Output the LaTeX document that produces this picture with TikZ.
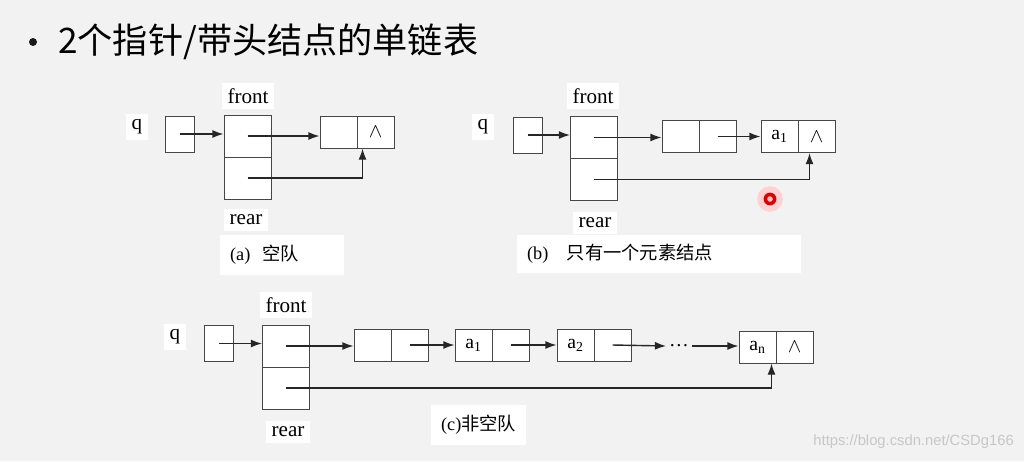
\documentclass[tikz,border=0pt]{standalone}
\usepackage{fontspec}
\setmainfont{Liberation Serif}
\newfontfamily\cjkfont{Noto Sans CJK SC}
\newfontfamily\wmfont{Liberation Sans}
\usetikzlibrary{arrows.meta}
\newcommand{\lnkLine}{black!72}
\newcommand{\lnkPtr}{black!85}
\newcommand{\lnkBg}{black!5}
\newcommand{\lnkMark}{white!78!black}
\tikzset{
  qcell/.style={rectangle, draw=\lnkLine, fill=white, line width=0.7pt,
                minimum width=0.725cm, minimum height=0.9cm, inner sep=0pt},
  hcell/.style={rectangle, draw=\lnkLine, fill=white, line width=0.7pt,
                minimum width=1.175cm, minimum height=1.05cm, inner sep=0pt},
  lcell/.style={rectangle, draw=\lnkLine, fill=white, line width=0.7pt,
                minimum width=0.925cm, minimum height=0.8cm, inner sep=0pt,
                font=\fontsize{14}{16}\selectfont},
  plab/.style={font=\fontsize{15}{18}\selectfont, fill=white, inner sep=4pt},
  capt/.style={font=\fontsize{13}{16}\selectfont, fill=white, anchor=west,
               inner xsep=7pt, inner ysep=7pt},
  ptr/.style={draw=\lnkPtr, line width=1pt, -{Latex[length=2.8mm,width=2mm]}},
}

\begin{document}
\begin{tikzpicture}[x=0.025cm, y=-0.025cm]
  \fill[\lnkBg] (0,0) rectangle (1024,461);
  \useasboundingbox (0,0) rectangle (1024,461);

  % title
  \fill[black!90] (33,42) circle (0.1cm);
  \node[anchor=west, inner sep=0pt, font=\cjkfont\fontsize{25}{30}\selectfont] (ttl) at (58,42) {2个指针/带头结点的单链表};

  % (a) empty queue
  \node[plab] (qA) at (137,127) {q};
  \node[qcell] (pA) at (180,134) {};
  \node[hcell] (hA1) at (247.5,136) {};
  \node[hcell] (hA2) at (247.5,178) {};
  \node[plab] (fA) at (248,96) {front};
  \node[plab] (rA) at (246,220) {rear};
  \node[lcell] (eA1) at (338.5,132) {};
  \node[lcell] (eA2) at (375.5,132) {$\wedge$};
  \draw[ptr] (pA.center) -- (pA.center -| hA1.west);
  \draw[ptr] (hA1.center) -- (hA1.center -| eA1.west);
  \draw[ptr] (hA2.center) -| ([xshift=0.15cm]eA2.south west);
  \node[capt, text width=2.6cm] (cpA) at (220,255) {(a)\ \ {\cjkfont 空队}};

  % (b) one element
  \node[plab] (qB) at (483,127) {q};
  \node[qcell] (pB) at (527.5,135) {};
  \node[hcell] (hB1) at (594,137.5) {};
  \node[hcell] (hB2) at (594,179.5) {};
  \node[plab] (fB) at (593,96) {front};
  \node[plab] (rB) at (595,223) {rear};
  \node[lcell] (bE1) at (680.5,136.5) {};
  \node[lcell] (bE2) at (717.5,136.5) {};
  \node[lcell] (bA1) at (779.5,136.5) {a\textsubscript{1}};
  \node[lcell] (bA2) at (816.5,136.5) {$\wedge$};
  \draw[ptr] (pB.center) -- (pB.center -| hB1.west);
  \draw[ptr] (hB1.center) -- (hB1.center -| bE1.west);
  \draw[ptr] (bE2.center) -- (bA1.west);
  \draw[ptr] (hB2.center) -| ([xshift=0.3cm]bA2.south west);
  \node[capt, text width=6.6cm] (cpB) at (517,254) {(b)\ \ \ {\cjkfont 只有一个元素结点}};

  % (c) non-empty queue
  \node[plab] (qC) at (175,337) {q};
  \node[qcell] (pC) at (218.5,343.5) {};
  \node[hcell] (hC1) at (286,346) {};
  \node[hcell] (hC2) at (286,388) {};
  \node[plab] (fC) at (286,305) {front};
  \node[plab] (rC) at (288,432) {rear};
  \node[lcell] (cE1) at (372.5,345) {};
  \node[lcell] (cE2) at (409.5,345) {};
  \node[lcell] (cA1) at (473.5,345) {a\textsubscript{1}};
  \node[lcell] (cA2) at (510.5,345) {};
  \node[lcell] (cB1) at (575.5,345) {a\textsubscript{2}};
  \node[lcell] (cB2) at (612.5,345) {};
  \node[font=\fontsize{14}{16}\selectfont, inner sep=2pt] (dC) at (679,346) {\dots};
  \node[lcell] (cN1) at (757.5,347) {a\textsubscript{n}};
  \node[lcell] (cN2) at (794.5,347) {$\wedge$};
  \draw[ptr] (pC.center) -- (pC.center -| hC1.west);
  \draw[ptr] (hC1.center) -- (hC1.center -| cE1.west);
  \draw[ptr] (cE2.center) -- (cA1.west);
  \draw[ptr] (cA2.center) -- (cB1.west);
  \draw[ptr] (cB2.center) -- (dC.west);
  \draw[ptr] (dC.east) -- (dC.east -| cN1.west);
  \draw[ptr] (hC2.center) -| ([xshift=-0.1cm]cN2.south west);
  \node[capt] (cpC) at (431,425) {(c){\cjkfont 非空队}};

  % screen marks
  \fill[red!18] (770,199) circle (0.32cm);
  \fill[red!85!black] (770,199) circle (0.16cm);
  \fill[red!25] (770,199) circle (0.07cm);
  \node[font=\wmfont\fontsize{10.5}{12}\selectfont, text=\lnkMark, anchor=east, inner sep=0pt] (wm) at (1014,442) {https://blog.csdn.net/CSDg166};
\end{tikzpicture}
\end{document}
